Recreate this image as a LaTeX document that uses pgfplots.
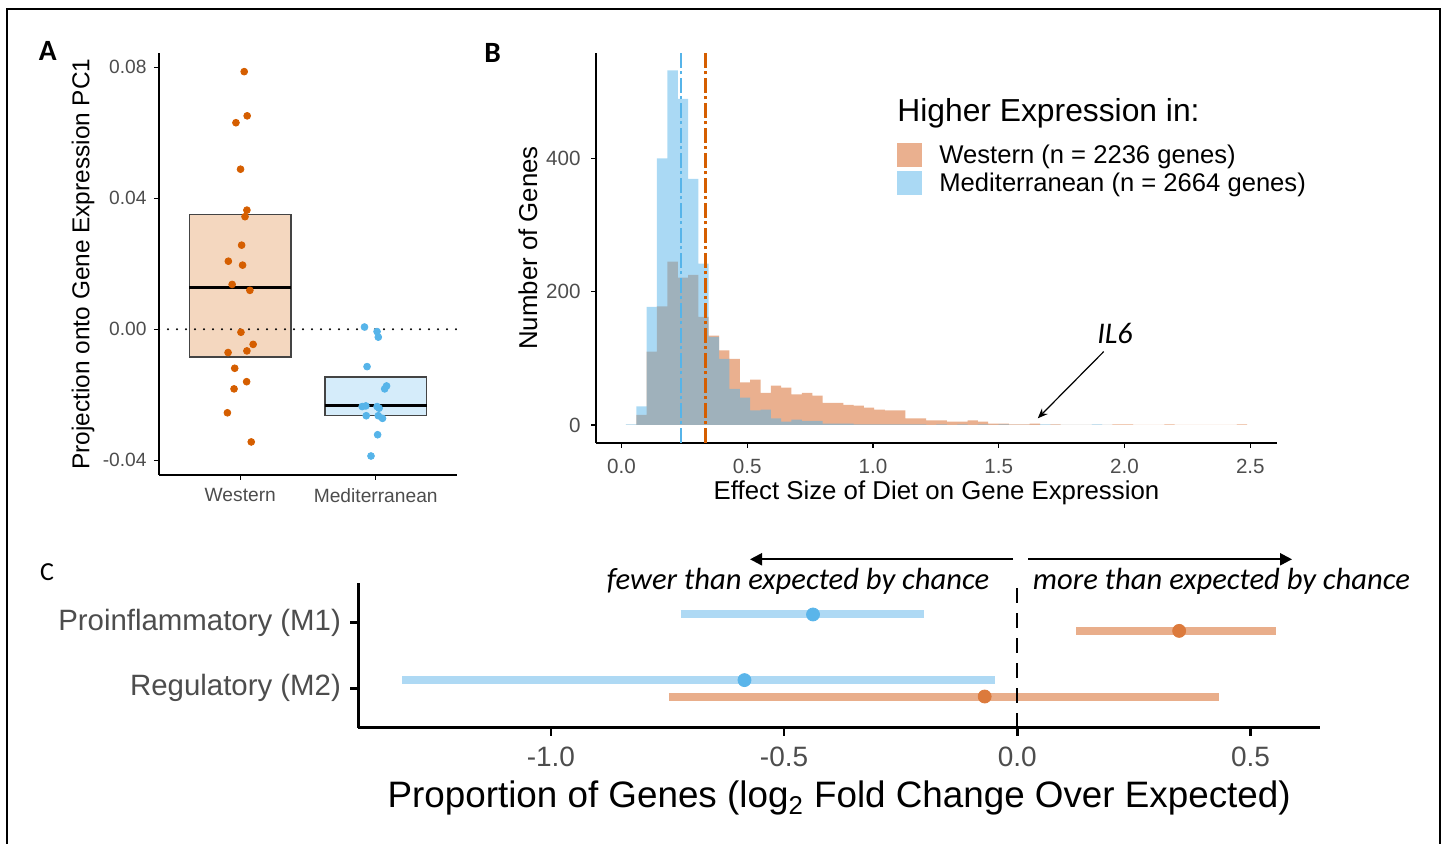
\documentclass[border=0pt]{standalone}
\usepackage{pgfplots}
\pgfplotsset{compat=1.18}
\usetikzlibrary{arrows.meta}
\usepackage{fontspec}
\setmainfont{Liberation Sans}
\newfontfamily\carl{Carlito}

\definecolor{wst}{HTML}{D55E00}
\definecolor{med}{HTML}{56B4E9}
\definecolor{wsthist}{HTML}{D5611F}
\definecolor{tickgray}{HTML}{4D4D4D}
\definecolor{boxgray}{HTML}{444444}
\definecolor{cbarb}{HTML}{AED9F4}
\definecolor{cbaro}{HTML}{E9AE8B}
\definecolor{cptb}{HTML}{5AB5EA}
\definecolor{cpto}{HTML}{DC7A3C}

\pgfplotsset{
  gg/.style={
    scale only axis, anchor=south west,
    axis lines=left, axis line style={-, line width=1pt},
    tick align=outside, major tick length=2.5pt,
    tick style={line width=0.7pt, black},
    scaled x ticks=false, scaled y ticks=false,
    ticklabel style={text=tickgray, inner sep=0pt},
    xticklabel style={anchor=north},
    yticklabel style={anchor=east},
  }
}

\begin{document}
\begin{tikzpicture}
\useasboundingbox (0,0) rectangle (722.5pt,422pt);
\draw[line width=0.6pt] (3.5pt,-2pt) -- (3.5pt,417.5pt) -- (720pt,417.5pt) -- (720pt,-2pt);

% ---------- panel A
\begin{axis}[gg,
  at={(79.5pt,184.5pt)}, width=149pt, height=211pt,
  xmin=0.4, xmax=2.6, ymin=-0.0445, ymax=0.0844,
  xtick={1,2}, xticklabels={Western, Mediterranean},
  ytick={-0.04,0,0.04,0.08}, yticklabels={-0.04,0.00,0.04,0.08},
  ticklabel style={font=\fontsize{9.6}{11}\selectfont},
  xticklabel style={yshift=-4pt},
  yticklabel style={xshift=-3.5pt},
  every axis y label/.style={at={(axis description cs:-0.255,0.5)}, rotate=90, anchor=center,
    font=\fontsize{12.2}{14}\selectfont},
  ylabel={Projection onto Gene Expression PC1},
]
\addplot[fill=wst!25, draw=boxgray, line width=0.75pt] coordinates {(0.625,-0.0084) (1.375,-0.0084) (1.375,0.0351) (0.625,0.0351)} -- cycle;
\addplot[fill=med!25, draw=boxgray, line width=0.75pt] coordinates {(1.625,-0.0264) (2.375,-0.0264) (2.375,-0.0145) (1.625,-0.0145)} -- cycle;
\addplot[black, line width=1.5pt] coordinates {(0.625,0.0129) (1.375,0.0129)};
\addplot[black, line width=1.5pt] coordinates {(1.625,-0.0233) (2.375,-0.0233)};
\addplot[black, line width=1.1pt, line cap=round, dash pattern=on 0pt off 4.5pt] coordinates {(0.4,0) (2.6,0)};
\addplot[only marks, mark=*, mark size=1.7pt, color=wst] coordinates {
 (1.029,0.0787) (1.051,0.0652) (0.968,0.0631) (1.002,0.0489) (1.049,0.0364)
 (1.035,0.0344) (1.010,0.0257) (0.912,0.0208) (1.017,0.0196) (0.940,0.0137)
 (1.071,0.0119) (1.005,-0.0009) (1.095,-0.0046) (1.049,-0.0066) (0.910,-0.0071)
 (0.959,-0.0119) (1.047,-0.0160) (0.954,-0.0182) (0.905,-0.0255) (1.081,-0.0344)};
\addplot[only marks, mark=*, mark size=1.7pt, color=med] coordinates {
 (1.917,0.0007) (2.010,-0.0007) (2.019,-0.0024) (1.936,-0.0114) (2.080,-0.0173)
 (2.066,-0.0182) (1.927,-0.0234) (1.900,-0.0236) (2.010,-0.0236) (2.025,-0.0241)
 (1.930,-0.0264) (2.019,-0.0264) (2.050,-0.0272) (2.014,-0.0322) (1.965,-0.0387)};
\end{axis}

% ---------- panel B
\begin{axis}[gg,
  at={(298pt,200.5pt)}, width=340.5pt, height=195pt,
  xmin=-0.101, xmax=2.606, ymin=-27, ymax=558,
  xtick={0,0.5,1,1.5,2,2.5}, xticklabels={0.0,0.5,1.0,1.5,2.0,2.5},
  ytick={0,200,400}, yticklabels={0,200,400},
  ticklabel style={font=\fontsize{10.3}{12}\selectfont},
  xticklabel style={yshift=-5.5pt},
  yticklabel style={xshift=-5pt},
  every axis y label/.style={at={(axis description cs:-0.0999,0.5)}, rotate=90, anchor=center,
    font=\fontsize{12.9}{15}\selectfont},
  every axis x label/.style={at={(axis description cs:0.5,-0.146)}, anchor=base,
    font=\fontsize{12.9}{15}\selectfont},
  ylabel={Number of Genes},
  xlabel={Effect Size of Diet on Gene Expression},
  legend style={at={(axis description cs:0.442,0.769)}, anchor=north west, draw=none, fill=none,
    inner sep=0pt, row sep=2pt, column sep=8pt, font=\fontsize{12.8}{14}\selectfont,
    nodes={inner sep=0.5pt}},
  legend cell align=left,
  legend image code/.code={\draw[#1, draw=none] (0pt,-6pt) rectangle (12.5pt,6pt);},
]
\addplot[const plot, fill=wsthist, fill opacity=0.5, draw=none] coordinates {
 (0.018,0) (0.059,15) (0.100,110) (0.141,178) (0.183,245) (0.224,221) (0.265,225) (0.306,162)
 (0.347,134) (0.388,112) (0.429,99) (0.471,64) (0.512,68) (0.553,48) (0.594,59) (0.635,56)
 (0.676,46) (0.717,48) (0.759,44) (0.800,33) (0.841,33) (0.882,30) (0.923,29) (0.964,26)
 (1.005,23) (1.047,22) (1.088,22) (1.129,10) (1.170,10) (1.211,7) (1.252,7) (1.294,5)
 (1.335,5) (1.376,7) (1.417,5) (1.458,2) (1.499,2) (1.540,1) (1.582,1) (1.623,2)
 (1.664,0) (1.705,1) (1.746,0) (1.787,0) (1.829,0) (1.870,0) (1.911,0) (1.952,1)
 (1.993,1) (2.034,0) (2.075,0) (2.116,0) (2.158,1) (2.199,0) (2.240,0) (2.281,0)
 (2.322,0) (2.363,0) (2.405,0) (2.446,1) (2.487,1)} \closedcycle;
\addlegendentry{Western (n = 2236 genes)}
\addplot[const plot, fill=med, fill opacity=0.5, draw=none] coordinates {
 (0.018,1) (0.059,28) (0.100,177) (0.141,400) (0.183,532) (0.224,489) (0.265,369) (0.306,242)
 (0.347,132) (0.388,99) (0.429,54) (0.471,41) (0.512,22) (0.553,23) (0.594,10) (0.635,5)
 (0.676,8) (0.717,6) (0.759,6) (0.800,2) (0.841,2) (0.882,2) (0.923,1) (0.964,1)
 (1.005,1) (1.047,1) (1.088,1) (1.129,1) (1.170,1) (1.211,0) (1.252,1) (1.294,0)
 (1.335,1) (1.376,0) (1.417,1) (1.458,0) (1.499,1) (1.540,0) (1.582,0) (1.623,0)
 (1.664,1) (1.705,0) (1.746,0) (1.787,0) (1.829,0) (1.870,1) (1.911,0) (1.952,0)} \closedcycle;
\addlegendentry{Mediterranean (n = 2664 genes)}
\addplot[forget plot, med, line width=1.4pt, dash pattern=on 7.5pt off 1.75pt on 1.5pt off 1.75pt] coordinates {(0.2366,-27) (0.2366,558)};
\addplot[forget plot, wst, line width=1.4pt, dash pattern=on 7.5pt off 1.75pt on 1.5pt off 1.75pt] coordinates {(0.3347,-27) (0.3347,558)};
\draw[line width=0.6pt, -{Stealth[length=5pt,width=4pt]}] (axis cs:1.917,110) -- (axis cs:1.655,10);
\node[anchor=base, font=\carl\itshape\fontsize{15}{17}\selectfont] at (axis cs:1.962,122.5) {IL6};
\end{axis}
\node[anchor=base west, inner sep=0pt, font=\fontsize{15.9}{18}\selectfont] at (448.5pt,361.2pt) {Higher Expression in:};

% ---------- panel C
\begin{axis}[gg,
  at={(179.15pt,58.15pt)}, width=480.85pt, height=72.2pt,
  xmin=-1.413, xmax=0.649, ymin=0.4, ymax=2.6,
  axis line style={-, line width=1.35pt},
  major tick length=4pt, tick style={line width=1.2pt, black},
  xtick={-1,-0.5,0,0.5}, xticklabels={-1.0,-0.5,0.0,0.5},
  ytick={1,2}, yticklabels={Regulatory (M2), Proinflammatory (M1)},
  xticklabel style={font=\fontsize{14}{16}\selectfont, yshift=-5.5pt},
  yticklabel style={font=\fontsize{14.7}{17}\selectfont, xshift=-4.5pt},
  every axis x label/.style={at={(axis description cs:0.5,-0.556)}, anchor=base,
    font=\fontsize{18.4}{21}\selectfont},
  xlabel={Proportion of Genes (log\textsubscript{2} Fold Change Over Expected)},
]
\addplot[cbarb, line width=4pt] coordinates {(-0.722,2.125) (-0.201,2.125)};
\addplot[cbaro, line width=4pt] coordinates {(0.126,1.875) (0.555,1.875)};
\addplot[cbarb, line width=4pt] coordinates {(-1.319,1.125) (-0.047,1.125)};
\addplot[cbaro, line width=4pt] coordinates {(-0.747,0.875) (0.433,0.875)};
\addplot[black, line width=1pt, dash pattern=on 7.5pt off 5pt] coordinates {(0,0.4) (0,2.6)};
\addplot[only marks, mark=*, mark size=3.25pt, color=cptb] coordinates {(-0.438,2.125) (-0.585,1.125)};
\addplot[only marks, mark=*, mark size=3.25pt, color=cpto] coordinates {(0.347,1.875) (-0.070,0.875)};
\end{axis}

% ---------- annotations
\draw[line width=1.1pt, -{Triangle[length=6pt,width=6pt]}] (506.5pt,142.35pt) -- (375pt,142.35pt);
\draw[line width=1.1pt, -{Triangle[length=6pt,width=6pt]}] (514pt,142.35pt) -- (646pt,142.35pt);
\node[anchor=base, font=\carl\itshape\fontsize{15.3}{17}\selectfont] at (399pt,127pt) {fewer than expected by chance};
\node[anchor=base, font=\carl\itshape\fontsize{15.3}{17}\selectfont] at (610.75pt,127pt) {more than expected by chance};

\node[font=\carl\bfseries\fontsize{14.7}{16}\selectfont] at (23.9pt,396.4pt) {A};
\node[font=\carl\bfseries\fontsize{14.7}{16}\selectfont] at (246.25pt,395.75pt) {B};
\node[font=\carl\fontsize{13}{15}\selectfont] at (23.5pt,136pt) {C};
\end{tikzpicture}
\end{document}
